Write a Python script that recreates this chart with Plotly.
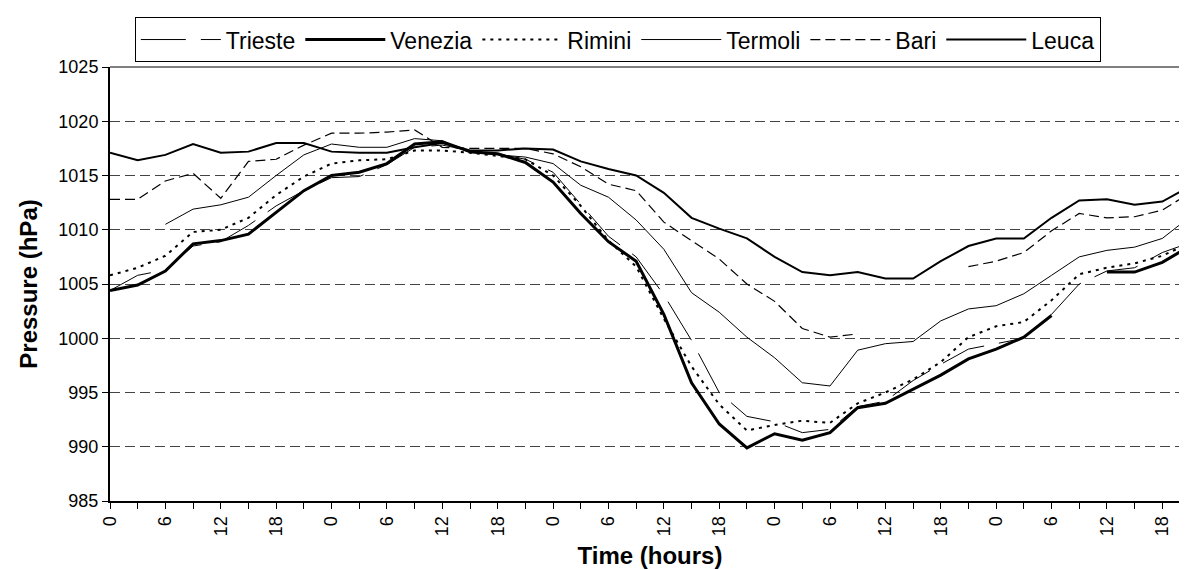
import plotly.graph_objects as go

# 3-hourly time steps over 5 days (index in hours from start)
hours = list(range(0, 120, 3))
tick_text = [str(h % 24) if h % 6 == 0 else "" for h in hours]

trieste = [1004.4, 1005.8, 1006.3, 1008.5, 1008.9, 1010.4, 1012.2, 1013.6, 1014.8, 1014.9,
           1016.0, 1017.6, 1017.8, 1017.3, 1017.0, 1016.5, 1015.3, 1012.3, 1009.4, 1007.5,
           1004.0, 999.8, 995.0, 992.8, 992.3, 991.3, 991.6, 993.7, 994.2, 996.1,
           997.6, 999.0, 999.5, 1000.0, 1002.2, 1005.0, 1006.2, 1006.5, 1007.9, 1008.8]
venezia = [1004.4, 1004.9, 1006.2, 1008.7, 1009.0, 1009.6, 1011.6, 1013.6, 1015.0, 1015.3,
           1016.1, 1017.9, 1018.1, 1017.2, 1017.0, 1016.2, 1014.4, 1011.5, 1008.9, 1007.1,
           1002.2, 995.9, 992.1, 989.9, 991.2, 990.6, 991.3, 993.6, 994.0, 995.3,
           996.6, 998.1, 999.0, 1000.1, 1002.1, None, 1006.1, 1006.1, 1007.0, 1008.5]
rimini = [1005.8, 1006.5, 1007.6, 1009.8, 1010.0, 1011.1, 1013.2, 1014.9, 1016.1, 1016.4,
          1016.5, 1017.3, 1017.3, 1017.1, 1016.8, 1016.5, 1015.0, 1012.2, 1009.0, 1006.6,
          1001.8, 997.4, 993.9, 991.5, 992.0, 992.4, 992.2, 994.0, 995.0, 996.2,
          997.8, 1000.1, 1001.1, 1001.5, 1003.5, 1005.9, 1006.5, 1006.9, 1007.6, 1008.8]
termoli = [None, None, 1010.5, 1011.9, 1012.3, 1013.0, 1015.0, 1016.9, 1017.9, 1017.6,
           1017.6, 1018.4, 1018.2, 1017.1, 1016.9, 1016.7, 1016.1, 1014.1, 1013.0, 1010.9,
           1008.2, 1004.2, 1002.4, 1000.1, 998.2, 995.9, 995.6, 998.9, 999.5, 999.7,
           1001.6, 1002.7, 1003.0, 1004.1, 1005.8, 1007.5, 1008.1, 1008.4, 1009.2, 1011.2]
bari = [1012.8, 1012.8, 1014.5, 1015.2, 1012.9, 1016.3, 1016.5, 1017.8, 1018.9, 1018.9,
        1019.0, 1019.2, 1017.6, 1017.5, 1017.5, 1017.5, 1017.0, 1015.8, 1014.2, 1013.6,
        1010.7, 1009.0, 1007.3, 1005.0, 1003.4, 1000.9, 1000.1, 1000.4, None, None,
        None, 1006.6, 1007.1, 1007.9, 1009.9, 1011.5, 1011.1, 1011.2, 1011.8, 1013.4]
leuca = [1017.1, 1016.4, 1016.9, 1017.9, 1017.1, 1017.2, 1018.0, 1018.0, 1017.2, 1017.1,
         1017.1, 1017.6, 1018.0, 1017.3, 1017.3, 1017.5, 1017.4, 1016.3, 1015.6, 1015.0,
         1013.4, 1011.1, 1010.1, 1009.2, 1007.5, 1006.1, 1005.8, 1006.1, 1005.5, 1005.5,
         1007.1, 1008.5, 1009.2, 1009.2, 1011.1, 1012.7, 1012.8, 1012.3, 1012.6, 1014.0]

series = [
    ("Trieste", trieste, dict(color="black", width=1, dash="45px,15px")),
    ("Venezia", venezia, dict(color="black", width=3)),
    ("Rimini", rimini, dict(color="black", width=2, dash="3px,5px")),
    ("Termoli", termoli, dict(color="black", width=1)),
    ("Bari", bari, dict(color="black", width=1.2, dash="10px,5px")),
    ("Leuca", leuca, dict(color="black", width=2)),
]

FONT = "Liberation Sans, Arial, sans-serif"

fig = go.Figure()
for name, vals, line in series:
    fig.add_trace(go.Scatter(x=hours, y=vals, name=name, mode="lines", line=line,
                             connectgaps=False))

fig.update_layout(
    width=1187, height=570,
    margin=dict(l=102, r=5, t=59, b=77),
    paper_bgcolor="white", plot_bgcolor="white",
    font=dict(family=FONT, color="black", size=18),
    showlegend=True,
    legend=dict(
        orientation="h", x=0.023, xanchor="left", y=1.115, yanchor="top",
        font=dict(family=FONT, size=23, color="black"),
        bordercolor="black", borderwidth=1, bgcolor="white",
        itemwidth=80, traceorder="normal",
    ),
)

fig.update_xaxes(
    range=[hours[0], hours[-1]],
    tickmode="array", tickvals=hours, ticktext=tick_text,
    tickangle=-90, ticks="outside", ticklen=6, tickcolor="black", tickwidth=1,
    tickfont=dict(family=FONT, size=18),
    showline=True, linecolor="black", linewidth=2,
    showgrid=False, zeroline=False,
    title=dict(text="<b>Time (hours)</b>", font=dict(family=FONT, size=24), standoff=12),
)
fig.update_yaxes(
    range=[985, 1025], dtick=5, tick0=985,
    ticks="outside", ticklen=6, tickcolor="black", tickwidth=1,
    tickfont=dict(family=FONT, size=18),
    showline=True, linecolor="black", linewidth=2,
    showgrid=True, gridcolor="#444444", gridwidth=1, griddash="10px,5px",
    zeroline=False,
    title=dict(text="<b>Pressure (hPa)</b>", font=dict(family=FONT, size=24), standoff=14),
)

# plot-area border (top black, right grey) like the original frame
fig.add_shape(type="line", xref="paper", yref="paper", x0=0, x1=1, y0=1, y1=1,
              line=dict(color="black", width=1))
fig.add_shape(type="line", xref="paper", yref="paper", x0=1, x1=1, y0=0, y1=1,
              line=dict(color="#808080", width=1))

fig.write_html("out.html")
